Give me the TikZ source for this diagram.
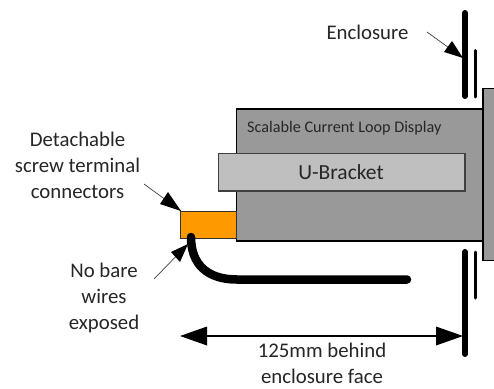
\documentclass[tikz,border=0pt]{standalone}
\usepackage{fontspec}
\setmainfont{Carlito}
\usetikzlibrary{arrows.meta}
\definecolor{orangeconn}{RGB}{255,153,0}
\tikzset{
 x=1pt,y=-1pt,
 body/.style={draw=black,line width=1.3pt,fill=#1,anchor=north west,inner sep=0pt,outer sep=0pt},
 lbl/.style={font=\fontsize{20.8}{26}\selectfont,text=black!85,align=center,inner sep=0pt},
 leader/.style={draw=black!75,line width=0.7pt},
 head/.style={fill=black,draw=none},
 thickline/.style={line width=6pt,line cap=round},
 thinline/.style={line width=3pt,line cap=round},
}
\begin{document}
\begin{tikzpicture}
\useasboundingbox (0,0) rectangle (494,388);
\fill[white] (0,0) rectangle (494,388);
% bodies
\draw[black,line width=1.3pt,fill=black!40] (236.5,109) rectangle (484,241);
\node[body=black!40,minimum width=14pt,minimum height=172pt] (panel) at (483,88.5) {};
\node[body=black!25,draw=black!75,minimum width=246.5pt,minimum height=37.5pt] (bracket) at (218.5,153.5) {};
\node[font=\fontsize{21.5}{24}\selectfont,text=black!85,inner sep=0pt] (ubl) at (341,172.5) {U-Bracket};
\node[anchor=west,font=\fontsize{16.2}{18}\selectfont,text=black!85,inner sep=0pt] (title) at (247,128.5) {Scalable Current Loop Display};
\node[body=orangeconn,draw=black!80,line width=0.8pt,minimum width=56pt,minimum height=27pt] (conn) at (180.5,211) {};
% wire
\coordinate (w0) at (191,237);
\coordinate (w1) at (407,279.5);
\draw[line width=8.5pt,line cap=round] (w0) .. controls (191,265) and (208,279.5) .. (237,279.5) -- (w1);
% enclosure
\coordinate (e1) at (465,13); \coordinate (e2) at (465,96);
\coordinate (e3) at (465,252); \coordinate (e4) at (465,354);
\coordinate (e5) at (475.5,50.5); \coordinate (e6) at (475.5,97);
\coordinate (e7) at (475.5,252); \coordinate (e8) at (475.5,298);
\draw[thickline] (e1)--(e2);
\draw[thickline] (e3)--(e4);
\draw[thinline] (e5)--(e6);
\draw[thinline] (e7)--(e8);
% dimension
\coordinate (d0) at (180,336); \coordinate (d1) at (463,336);
\draw[line width=2.5pt] (198,336)--(445,336);
\fill[head] (d0)--(207,326.5)--(207,345.5)--cycle;
\fill[head] (d1)--(436,326.5)--(436,345.5)--cycle;
% labels
\node[lbl] (encl) at (367.5,32) {Enclosure};
\node[lbl] (det) at (77.5,165) {Detachable\\screw terminal\\connectors};
\node[lbl] (nob) at (104,298) {No bare\\wires\\exposed};
\node[lbl] (dim) at (322,363.5) {125mm behind\\enclosure face};
% leaders
\coordinate (l1) at (427,32); \coordinate (t1) at (463,58);
\draw[leader] (l1)--(t1);
\fill[head] (t1)--(444,52)--(452,41)--cycle;
\coordinate (l2) at (144,184); \coordinate (t2) at (181,211);
\draw[leader] (l2)--(t2);
\fill[head] (t2)--(160,204)--(168,192)--cycle;
\coordinate (l3) at (154,279); \coordinate (t3) at (188,244);
\draw[leader] (l3)--(t3);
\fill[head] (t3)--(171,252)--(180,262)--cycle;
\end{tikzpicture}
\end{document}
